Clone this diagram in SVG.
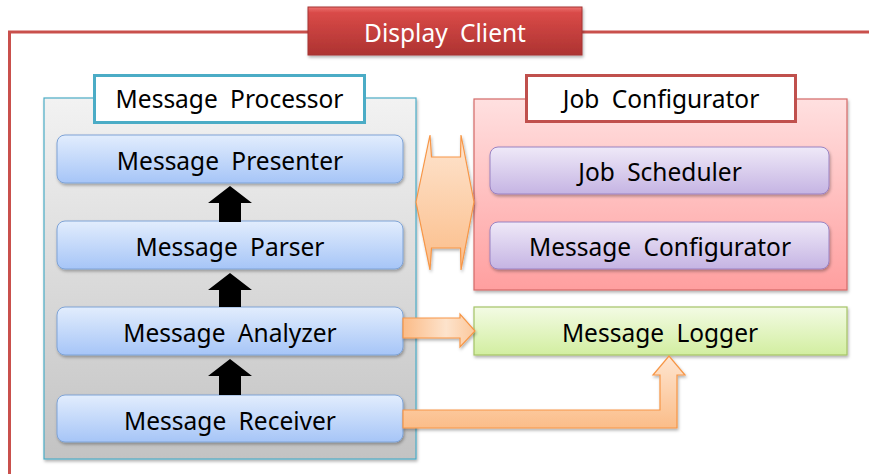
<svg xmlns="http://www.w3.org/2000/svg" width="869" height="474" viewBox="0 0 869 474">
  <defs>
    <linearGradient id="gRed" x1="0" y1="0" x2="0" y2="1">
      <stop offset="0" stop-color="#ec7270"/>
      <stop offset="0.12" stop-color="#d94a48"/>
      <stop offset="1" stop-color="#ad3331"/>
    </linearGradient>
    <linearGradient id="gGray" x1="0" y1="0" x2="0" y2="1">
      <stop offset="0" stop-color="#f2f2f2"/>
      <stop offset="1" stop-color="#c3c3c3"/>
    </linearGradient>
    <linearGradient id="gPink" x1="0" y1="0" x2="0" y2="1">
      <stop offset="0" stop-color="#ffe0e0"/>
      <stop offset="1" stop-color="#ff9f9f"/>
    </linearGradient>
    <linearGradient id="gBlue" x1="0" y1="0" x2="0" y2="1">
      <stop offset="0" stop-color="#e2edfd"/>
      <stop offset="1" stop-color="#a6c5f7"/>
    </linearGradient>
    <linearGradient id="gPurple" x1="0" y1="0" x2="0" y2="1">
      <stop offset="0" stop-color="#efe9f8"/>
      <stop offset="1" stop-color="#c5b4e3"/>
    </linearGradient>
    <linearGradient id="gGreen" x1="0" y1="0" x2="0" y2="1">
      <stop offset="0" stop-color="#f3fbe4"/>
      <stop offset="1" stop-color="#d2eea0"/>
    </linearGradient>
    <linearGradient id="gOrange" x1="0" y1="0" x2="0" y2="1">
      <stop offset="0" stop-color="#fee5d0"/>
      <stop offset="1" stop-color="#fbbd89"/>
    </linearGradient>
    <linearGradient id="gOrangeH" x1="0" y1="0" x2="1" y2="0">
      <stop offset="0" stop-color="#fbbb87"/>
      <stop offset="0.6" stop-color="#fde3cc"/>
      <stop offset="1" stop-color="#fcc89c"/>
    </linearGradient>
    <filter id="shadow" x="-10%" y="-20%" width="120%" height="150%">
      <feDropShadow dx="1" dy="2" stdDeviation="1.5" flood-color="#000" flood-opacity="0.3"/>
    </filter>
  </defs>
  <style>
    text { font-family: "Noto Sans", "Liberation Sans", sans-serif; font-size: 24.5px; word-spacing: 6px; text-anchor: middle; fill: #000; }
    .title { fill: #fff; }
    .module { fill: url(#gBlue); stroke: #7ea3d6; stroke-width: 1; }
    .task { fill: url(#gPurple); stroke: #9a82c2; stroke-width: 1; }
    .flow { stroke: #f79646; stroke-width: 1.2; stroke-linejoin: miter; }
    .step { fill: #000; }
  </style>

  <!-- outer client frame -->
  <g id="display-client-frame">
    <path d="M9.5 474 V32 H869" fill="none" stroke="#c9504c" stroke-width="3"/>
  </g>
  <g id="display-client">
    <rect x="308" y="7" width="274" height="48" fill="url(#gRed)" stroke="#a53532" stroke-width="1" filter="url(#shadow)"/>
    <text class="title" x="445" y="42">Display Client</text>
  </g>

  <!-- Message Processor container -->
  <g id="message-processor">
    <rect x="44" y="98" width="372" height="361" fill="url(#gGray)" stroke="#4bacc6" stroke-width="1.2" filter="url(#shadow)"/>
    <rect x="94.5" y="75.5" width="270" height="47" fill="#fff" stroke="#4bacc6" stroke-width="3"/>
    <text x="229.5" y="108">Message Processor</text>
  </g>

  <!-- Job Configurator container -->
  <g id="job-configurator">
    <rect x="474" y="99" width="373" height="191" fill="url(#gPink)" stroke="#d46a68" stroke-width="1.2" filter="url(#shadow)"/>
    <rect x="526.5" y="75.5" width="269" height="46" fill="#fff" stroke="#c0504d" stroke-width="3"/>
    <text x="661" y="108">Job Configurator</text>
  </g>

  <g id="message-presenter">
    <rect class="module" x="57" y="135" width="346" height="48" rx="8" filter="url(#shadow)"/>
    <text x="230" y="170">Message Presenter</text>
  </g>
  <g id="message-parser">
    <rect class="module" x="57" y="221" width="346" height="48" rx="8" filter="url(#shadow)"/>
    <text x="230" y="256">Message Parser</text>
  </g>
  <g id="message-analyzer">
    <rect class="module" x="57" y="307" width="346" height="48" rx="8" filter="url(#shadow)"/>
    <text x="230" y="342">Message Analyzer</text>
  </g>
  <g id="message-receiver">
    <rect class="module" x="57" y="395" width="346" height="47" rx="8" filter="url(#shadow)"/>
    <text x="230" y="430">Message Receiver</text>
  </g>

  <g id="job-scheduler">
    <rect class="task" x="490" y="147" width="339" height="47" rx="8" filter="url(#shadow)"/>
    <text x="660" y="181">Job Scheduler</text>
  </g>
  <g id="message-configurator">
    <rect class="task" x="490" y="222" width="339" height="47" rx="8" filter="url(#shadow)"/>
    <text x="660" y="256">Message Configurator</text>
  </g>

  <g id="message-logger">
    <rect x="474" y="307" width="373" height="48" fill="url(#gGreen)" stroke="#a5c467" stroke-width="1.2" filter="url(#shadow)"/>
    <text x="660" y="342">Message Logger</text>
  </g>

  <!-- connectors -->
  <g id="connectors">
    <!-- processing pipeline: receiver -> analyzer -> parser -> presenter -->
    <polygon class="step" points="230,186 252,203 241,203 241,222 219,222 219,203 208,203"/>
    <polygon class="step" points="230,273 252,290 241,290 241,307 219,307 219,290 208,290"/>
    <polygon class="step" points="230,359 252,376 241,376 241,395 219,395 219,376 208,376"/>
    <!-- processor <-> configurator exchange -->
    <polygon class="flow" fill="url(#gOrange)" points="416,202 430,135 431.5,157 460.5,157 461,135 474,202 461,270 460.5,248 431.5,248 430,270" filter="url(#shadow)"/>
    <!-- analyzer -> logger -->
    <polygon class="flow" fill="url(#gOrangeH)" points="403,318 460,318 460,314 475,331 460,347 460,338 403,338" filter="url(#shadow)"/>
    <!-- receiver -> logger -->
    <polygon class="flow" fill="url(#gOrange)" points="403,410 660,410 660,375 653,375 669,356 685,375 677,375 677,428 403,428" filter="url(#shadow)"/>
  </g>
</svg>
